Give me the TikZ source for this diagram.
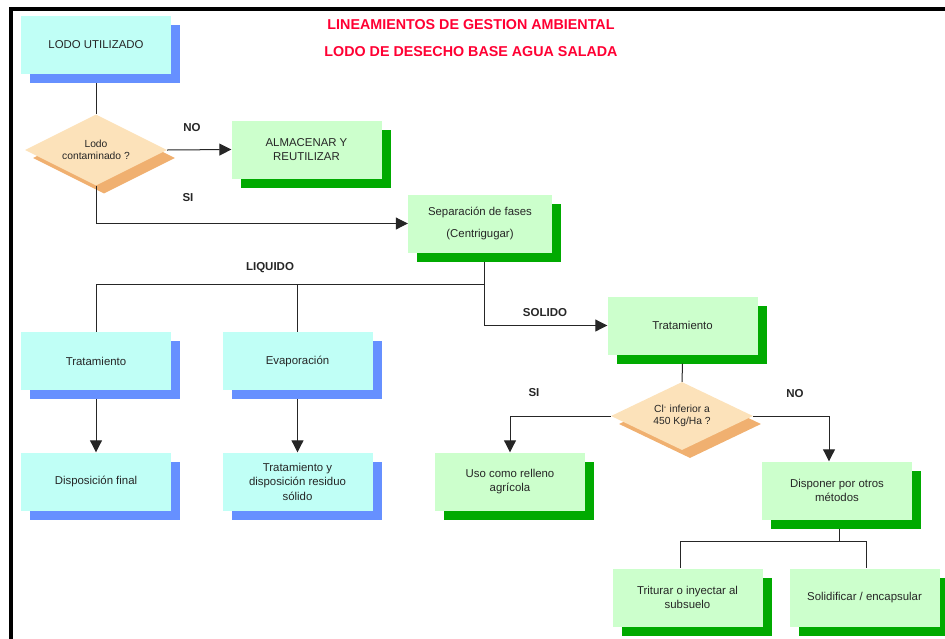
\documentclass[tikz,border=0pt]{standalone}
\usepackage{fontspec}
\setmainfont{Liberation Sans}
\usetikzlibrary{shapes.geometric,shadows,arrows.meta}
\definecolor{cyanfill}{HTML}{C0FFF6}
\definecolor{blueshadow}{HTML}{6690FF}
\definecolor{greenfill}{HTML}{CCFFCC}
\definecolor{greenshadow}{HTML}{00AA00}
\definecolor{peach}{HTML}{FCE2BA}
\definecolor{peachshadow}{HTML}{F0B070}
\definecolor{titlered}{HTML}{FF0033}

\begin{document}
\begin{tikzpicture}[x=1pt,y=-1pt,
  box/.style={rectangle,minimum width=150pt,minimum height=58pt,inner sep=2pt,align=center,
    font=\fontsize{11.4}{14.5}\selectfont,text=black!85},
  cyanbox/.style={box,fill=cyanfill,general shadow={fill=blueshadow,shadow xshift=9pt,shadow yshift=-9pt}},
  greenbox/.style={box,fill=greenfill,general shadow={fill=greenshadow,shadow xshift=9pt,shadow yshift=-9pt}},
  decision/.style={diamond,aspect=2,minimum width=142pt,minimum height=71pt,inner sep=0pt,fill=peach,
    align=center,font=\fontsize{10.3}{12}\selectfont,text=black!85,
    general shadow={fill=peachshadow,shadow xshift=8pt,shadow yshift=-8pt}},
  title/.style={font=\fontsize{14.3}{16}\selectfont\bfseries,text=titlered},
  lbl/.style={font=\fontsize{11.5}{13}\selectfont\bfseries,text=black!85},
  conn/.style={draw=black!85,line width=1pt},
  arr/.style={conn,-{Triangle[length=12pt,width=12pt]}}]
\useasboundingbox (0,0) rectangle (945,638);
\clip (0,0) rectangle (945,638);
% marco
\draw[line width=4pt] (11,700) |- (1000,9);

% titulo
\node[title] (tit1) at (471,25) {LINEAMIENTOS DE GESTION AMBIENTAL};
\node[title] (tit2) at (471,52) {LODO DE DESECHO BASE AGUA SALADA};

% cajas
\node[cyanbox] (lodo) at (96,45) {LODO UTILIZADO};
\node[decision] (dec1) at (96,150) {Lodo\\contaminado ?};
\node[greenbox] (almac) at (306.5,149.5) {ALMACENAR Y\\REUTILIZAR};
\node[greenbox,minimum width=144pt] (sep) at (480,223.5) {Separación de fases\\[7pt](Centrigugar)};
\node[cyanbox] (tratL) at (96,361) {Tratamiento};
\node[cyanbox] (evap) at (297.5,361) {Evaporación};
\node[cyanbox] (disp) at (96,481.5) {Disposición final};
\node[cyanbox] (resid) at (297.5,481.5) {Tratamiento y\\disposición residuo\\sólido};
\node[greenbox] (tratS) at (682.5,325.5) {Tratamiento};
\node[decision,minimum height=68pt] (dec2) at (682,416) {Cl\textsuperscript{-} inferior a\\450 Kg/Ha ?};
\node[greenbox] (uso) at (510,481.5) {Uso como relleno\\agrícola};
\node[greenbox] (otros) at (837,490.5) {Disponer por otros\\métodos};
\node[greenbox] (trit) at (687.5,597.5) {Triturar o inyectar al\\subsuelo};
\node[greenbox] (solid) at (864.5,597.5) {Solidificar / encapsular};

% etiquetas
\node[lbl] (no1) at (192,128) {NO};
\node[lbl] (si1) at (188,198) {SI};
\node[lbl] (liq) at (270,268) {LIQUIDO};
\node[lbl] (sol) at (545,313) {SOLIDO};
\node[lbl] (si2) at (534,393) {SI};
\node[lbl] (no2) at (795,394) {NO};

% conectores
\draw[conn] ([yshift=-9pt]lodo.south) -- (dec1.north);
\draw[arr] (dec1.east) -- (almac.west);
\draw[arr] (dec1.south) |- (sep.west);
\coordinate (fork1) at (484,284);
\draw[conn] ([xshift=4pt,yshift=-9pt]sep.south) -- (fork1);
\draw[conn] (fork1) -| (tratL.north);
\draw[conn] (evap.north) -- (evap.north |- fork1);
\draw[arr] (fork1) |- (tratS.west);
\draw[arr] ([yshift=-9pt]tratL.south) -- (disp.north);
\draw[arr] ([yshift=-9pt]evap.south) -- (resid.north);
\draw[conn] ([yshift=-9pt]tratS.south) -- (dec2.north);
\draw[arr] (dec2.west) -| (uso.north);
\draw[arr] (dec2.east) -| ([xshift=-8pt]otros.north);
\coordinate (fork2) at (839,541);
\draw[conn] ([xshift=2pt,yshift=-9pt]otros.south) -- (fork2);
\draw[conn] (fork2) -| ([xshift=-7pt]trit.north);
\draw[conn] (fork2) -| ([xshift=1.5pt]solid.north);
\end{tikzpicture}
\end{document}
